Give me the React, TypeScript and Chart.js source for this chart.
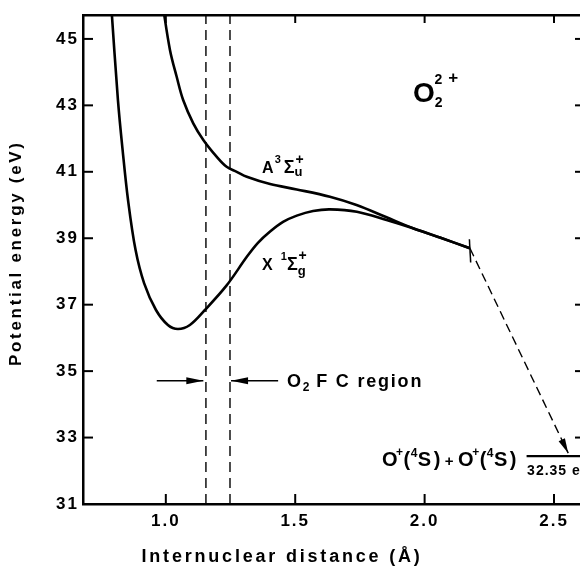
import React, { useEffect, useRef } from "react";
import { Chart, registerables } from "chart.js";

Chart.register(...registerables);

// ---- axis ticks ----
const xTicks = [1.0, 1.5, 2.0, 2.5];
const yTicks = [31, 33, 35, 37, 39, 41, 43, 45];

// ---- X 1Σg+ state potential curve (Å, eV) ----
const xStateR = [0.789, 0.815, 0.833, 0.854, 0.883, 0.916, 0.962, 1.008, 1.047, 1.093, 1.151, 1.235, 1.313, 1.356, 1.403, 1.453, 1.506, 1.569, 1.634, 1.738, 1.853, 1.955, 2.059, 2.175];
const xStateE = [46.02, 43.16, 41.66, 40.15, 38.65, 37.65, 36.84, 36.39, 36.27, 36.39, 36.84, 37.58, 38.44, 38.86, 39.2, 39.49, 39.68, 39.82, 39.87, 39.8, 39.55, 39.3, 39.02, 38.7];

// ---- A 3Σu+ state potential curve (Å, eV) ----
const aStateR = [0.988, 1.016, 1.042, 1.067, 1.106, 1.145, 1.197, 1.235, 1.274, 1.313, 1.403, 1.506, 1.634, 1.737, 1.853, 1.955, 2.059, 2.175];
const aStateE = [46.02, 44.67, 43.86, 43.16, 42.46, 41.96, 41.45, 41.15, 41.0, 40.85, 40.63, 40.47, 40.25, 40.0, 39.63, 39.3, 39.02, 38.7];

// ---- end marker of the curves ----
const endTickR = [2.173, 2.178];
const endTickE = [38.97, 38.27];

// ---- dissociation arrow and limit ----
const dissocR = [2.175, 2.555];
const dissocE = [38.7, 32.53];
const limitR = [2.394, 2.62];
const limitE = [32.44, 32.44];

// ---- O2 Franck-Condon region ----
const fcBoundsR = [1.155, 1.248];
const fcArrowLeftR = [0.965, 1.145];
const fcArrowRightR = [1.434, 1.252];
const fcArrowE = 34.71;

const X_MIN = 0.68;
const X_MAX = 2.612;
const Y_MIN = 31;
const Y_MAX = 45.72;

const FONT = "'Liberation Sans', Arial, Helvetica, sans-serif";

const pts = (rs: number[], es: number[]) => rs.map((r, i) => ({ x: r, y: es[i] }));

type Run = { t: string; size: number; dy?: number; dx?: number };
type Label = { x: number; y: number; runs: Run[]; spacing?: number };

const labels: Label[] = [
  {
    x: 1.955,
    y: 43.1,
    runs: [
      { t: "O", size: 28 },
      { t: "2", size: 14, dy: 5 },
      { t: "2", size: 14, dy: -18, dx: -8 },
      { t: "+", size: 17, dy: -19, dx: 6 },
    ],
  },
  {
    x: 1.372,
    y: 40.96,
    runs: [
      { t: "A", size: 16 },
      { t: "3", size: 11, dy: -10, dx: 1 },
      { t: "Σ", size: 18, dx: 3 },
      { t: "u", size: 13, dy: 3 },
      { t: "+", size: 14, dy: -9, dx: -7 },
    ],
  },
  {
    x: 1.372,
    y: 38.04,
    runs: [
      { t: "X", size: 16 },
      { t: "1", size: 11, dy: -10, dx: 8 },
      { t: "Σ", size: 18, dx: 0 },
      { t: "g", size: 13, dy: 5 },
      { t: "+", size: 14, dy: -10, dx: -7 },
    ],
  },
  {
    x: 1.835,
    y: 32.14,
    spacing: 0.5,
    runs: [
      { t: "O", size: 20 },
      { t: "+", size: 12, dy: -10, dx: -2 },
      { t: "(", size: 20 },
      { t: "4", size: 12, dy: -9 },
      { t: "S", size: 20 },
      { t: ")", size: 20, dx: 2 },
      { t: "+", size: 15, dx: 4 },
      { t: "O", size: 20, dx: 4 },
      { t: "+", size: 12, dy: -10, dx: -2 },
      { t: "(", size: 20 },
      { t: "4", size: 12, dy: -9 },
      { t: "S", size: 20 },
      { t: ")", size: 20, dx: 2 },
    ],
  },
  { x: 2.396, y: 31.87, spacing: 1, runs: [{ t: "32.35 eV", size: 14 }] },
  {
    x: 1.468,
    y: 34.52,
    spacing: 1.8,
    runs: [
      { t: "O", size: 18 },
      { t: "2", size: 12, dy: 4 },
      { t: "F C region", size: 18, dx: 5 },
    ],
  },
];

const frameAndText = {
  id: "frameAndText",
  beforeUpdate(chart: any) {
    chart.ctx.letterSpacing = "2px";
  },
  beforeDraw(chart: any) {
    chart.ctx.letterSpacing = "2px";
  },
  afterDatasetsDraw(chart: any) {
    const ctx = chart.ctx as CanvasRenderingContext2D;
    const xs = chart.scales.x;
    const ys = chart.scales.y;
    const { left, right, top, bottom } = chart.chartArea;
    ctx.save();
    ctx.strokeStyle = "#000";
    ctx.lineWidth = 2;
    const line = (a: number, b: number, c: number, d: number) => {
      ctx.beginPath();
      ctx.moveTo(a, b);
      ctx.lineTo(c, d);
      ctx.stroke();
    };
    xTicks.forEach((v) => {
      const px = xs.getPixelForValue(v);
      line(px, bottom, px, bottom - 10);
      line(px, top, px, top + 8);
    });
    yTicks.forEach((v) => {
      const py = ys.getPixelForValue(v);
      line(left, py, left + 10, py);
      line(right, py, right - 8, py);
    });
    // arrow heads
    chart.data.datasets.forEach((ds: any, i: number) => {
      if (!ds.arrowHead) return;
      const meta = chart.getDatasetMeta(i);
      const n = meta.data.length;
      const p1 = meta.data[n - 2];
      const p2 = meta.data[n - 1];
      const ang = Math.atan2(p2.y - p1.y, p2.x - p1.x);
      const { len, half } = ds.arrowHead;
      ctx.fillStyle = "#000";
      ctx.beginPath();
      ctx.moveTo(p2.x, p2.y);
      ctx.lineTo(p2.x - len * Math.cos(ang) + half * Math.sin(ang), p2.y - len * Math.sin(ang) - half * Math.cos(ang));
      ctx.lineTo(p2.x - len * Math.cos(ang) - half * Math.sin(ang), p2.y - len * Math.sin(ang) + half * Math.cos(ang));
      ctx.closePath();
      ctx.fill();
    });
    ctx.restore();
  },
  afterDraw(chart: any) {
    const ctx = chart.ctx as CanvasRenderingContext2D;
    const xs = chart.scales.x;
    const ys = chart.scales.y;
    const { left, top, bottom } = chart.chartArea;
    ctx.save();
    ctx.fillStyle = "#000";
    ctx.textBaseline = "alphabetic";
    ctx.textAlign = "left";
    labels.forEach((lb) => {
      (ctx as any).letterSpacing = (lb.spacing ?? 0) + "px";
      let x = xs.getPixelForValue(lb.x);
      const y = ys.getPixelForValue(lb.y);
      lb.runs.forEach((r) => {
        ctx.font = `bold ${r.size}px ${FONT}`;
        x += r.dx ?? 0;
        ctx.fillText(r.t, x, y + (r.dy ?? 0));
        x += ctx.measureText(r.t).width;
      });
    });
    // axis titles
    ctx.textBaseline = "middle";
    ctx.textAlign = "left";
    (ctx as any).letterSpacing = "2.8px";
    ctx.font = `bold 18px ${FONT}`;
    const xt = "Internuclear distance (Å)";
    const xw = ctx.measureText(xt).width;
    ctx.fillText(xt, xs.getPixelForValue(1.449) - xw / 2, bottom + 53);
    (ctx as any).letterSpacing = "2.7px";
    ctx.font = `bold 17px ${FONT}`;
    const yt = "Potential energy (eV)";
    const yw = ctx.measureText(yt).width;
    ctx.translate(left - 67, ys.getPixelForValue(38.55));
    ctx.rotate(-Math.PI / 2);
    ctx.fillText(yt, -yw / 2, 0);
    ctx.restore();
  },
};

export default function App() {
  const ref = useRef<HTMLCanvasElement | null>(null);

  useEffect(() => {
    if (!ref.current) return;
    const curve = { borderColor: "#000", pointRadius: 0, showLine: true, fill: false };
    const chart = new Chart(ref.current, {
      type: "scatter",
      data: {
        datasets: [
          { ...curve, label: "X 1Σg+", data: pts(xStateR, xStateE), borderWidth: 2.6, tension: 0.35 },
          { ...curve, label: "A 3Σu+", data: pts(aStateR, aStateE), borderWidth: 2.6, tension: 0.35 },
          { ...curve, label: "end", data: pts(endTickR, endTickE), borderWidth: 1.5 },
          { ...curve, label: "dissociation", data: pts(dissocR, dissocE), borderWidth: 1.4, borderDash: [9, 5], arrowHead: { len: 15, half: 3.5 } },
          { ...curve, label: "limit", data: pts(limitR, limitE), borderWidth: 2.2 },
          { ...curve, label: "FC1", data: [{ x: fcBoundsR[0], y: Y_MIN }, { x: fcBoundsR[0], y: Y_MAX }], borderWidth: 1.4, borderDash: [10, 6] },
          { ...curve, label: "FC2", data: [{ x: fcBoundsR[1], y: Y_MIN }, { x: fcBoundsR[1], y: Y_MAX }], borderWidth: 1.4, borderDash: [10, 6] },
          { ...curve, label: "FCarrowL", data: fcArrowLeftR.map((r) => ({ x: r, y: fcArrowE })), borderWidth: 1.5, arrowHead: { len: 17, half: 3.5 } },
          { ...curve, label: "FCarrowR", data: fcArrowRightR.map((r) => ({ x: r, y: fcArrowE })), borderWidth: 1.5, arrowHead: { len: 17, half: 3.5 } },
        ] as any,
      },
      options: {
        responsive: false,
        devicePixelRatio: 1,
        animation: false,
        layout: { padding: { left: 0, top: 15, right: 17, bottom: 0 } },
        plugins: { legend: { display: false }, tooltip: { enabled: false } },
        scales: {
          x: {
            type: "linear",
            position: "bottom",
            min: X_MIN,
            max: X_MAX,
            afterBuildTicks: (s: any) => {
              s.ticks = xTicks.map((v) => ({ value: v }));
            },
            afterFit: (s: any) => {
              s.height = 71;
            },
            ticks: {
              color: "#000",
              padding: 7,
              font: { family: FONT, size: 17, weight: "bold" },
              callback: (v: any) => Number(v).toFixed(1),
            },
            grid: { display: false, drawTicks: false },
            border: { display: true, color: "#000", width: 2.5 },
          },
          y: {
            type: "linear",
            position: "left",
            min: Y_MIN,
            max: Y_MAX,
            afterBuildTicks: (s: any) => {
              s.ticks = yTicks.map((v) => ({ value: v }));
            },
            afterFit: (s: any) => {
              s.width = 83;
            },
            ticks: {
              color: "#000",
              padding: 4,
              font: { family: FONT, size: 17, weight: "bold" },
              callback: (v: any) => String(v),
            },
            grid: { display: false, drawTicks: false },
            border: { display: true, color: "#000", width: 2.5 },
          },
          x2: {
            type: "linear",
            position: "top",
            min: X_MIN,
            max: X_MAX,
            ticks: { display: false },
            grid: { display: false, drawTicks: false },
            border: { display: true, color: "#000", width: 2.5 },
            afterFit: (s: any) => {
              s.height = 0;
            },
          },
          y2: {
            type: "linear",
            position: "right",
            min: Y_MIN,
            max: Y_MAX,
            ticks: { display: false },
            grid: { display: false, drawTicks: false },
            border: { display: true, color: "#000", width: 2.5 },
            afterFit: (s: any) => {
              s.width = 0;
            },
          },
        },
      } as any,
      plugins: [frameAndText],
    });
    return () => chart.destroy();
  }, []);

  return (
    <div
      style={{
        position: "fixed",
        left: 0,
        top: 0,
        width: 580,
        height: 575,
        overflow: "hidden",
        background: "#fff",
      }}
    >
      <canvas ref={ref} width={600} height={575} style={{ display: "block" }} />
    </div>
  );
}
